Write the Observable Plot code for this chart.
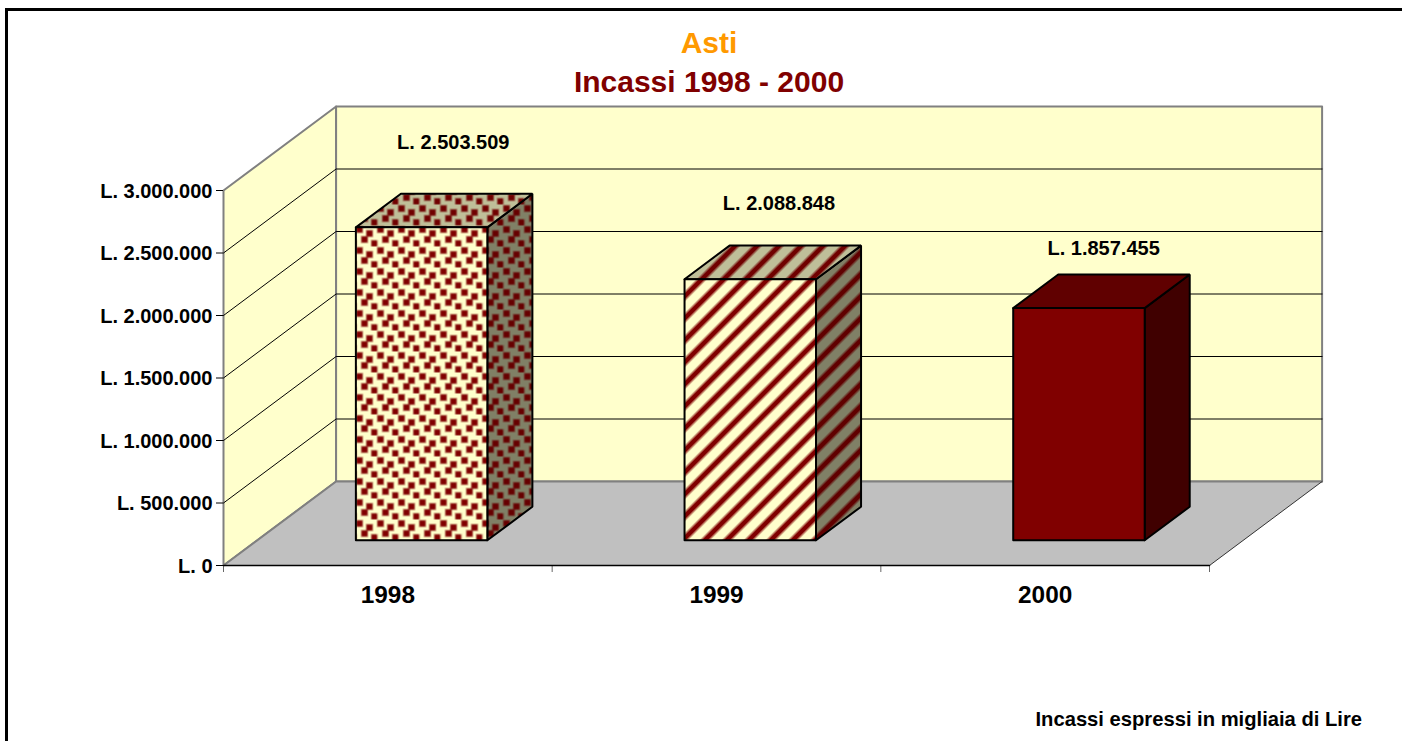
<!DOCTYPE html>
<html>
<head>
<meta charset="utf-8">
<script src="https://cdn.jsdelivr.net/npm/d3@7"></script>
<script src="https://cdn.jsdelivr.net/npm/@observablehq/plot@0.6"></script>
<style>
html,body{margin:0;padding:0;background:#fff;overflow:hidden;width:1402px;height:741px;font-family:"Liberation Sans",Arial,sans-serif;}
#chart{position:absolute;left:0;top:0;}
#border{position:absolute;left:5px;top:8px;width:1400px;height:740px;border-left:3px solid #000;border-top:3px solid #000;}
.t{position:absolute;left:0;width:1418px;text-align:center;font-weight:bold;font-size:30px;line-height:36px;white-space:nowrap;}
#t1{top:25px;color:#FF9900;}
#t2{top:64px;color:#800000;}
#cap{position:absolute;right:40px;top:708px;font-weight:bold;font-size:20.2px;line-height:22px;color:#000;white-space:nowrap;}
</style>
</head>
<body>
<div id="border"></div>
<div id="t1" class="t">Asti</div>
<div id="t2" class="t">Incassi 1998 - 2000</div>
<div id="chart"></div>
<div id="cap">Incassi espressi in migliaia di Lire</div>
<script>
// Data
const years = ["1998", "1999", "2000"];
const incassi = [2503509, 2088848, 1857455];
const yTicks = [0, 500000, 1000000, 1500000, 2000000, 2500000, 3000000];

// Oblique projection, in data units
const DEPTH_X = 0.3426;       // categories per full depth
const DEPTH_Y = 672000;       // value per full depth
const YMAX = 3000000;
const BAR_GAP = 0.3, BAR_W = 0.4, Z0 = 0.3, Z1 = 0.7;
const LABEL_LIFT = [408000, 336000, 208000];
const LABEL_SHIFT = [-0.0407, -0.0498, -0.062];

const fmt = d3.formatLocale({decimal: ",", thousands: ".", grouping: [3], currency: ["", ""]}).format(",d");
const lire = (v) => "L. " + fmt(v);

const P = (c, v, z) => ({x: c + z * DEPTH_X, y: v + z * DEPTH_Y});
const poly = (id, pts) => pts.map((p) => ({id, ...P(...p)}));
const closed = (id, pts) => poly(id, [...pts, pts[0]]);

const leftWall = closed("l", [[0,0,0],[0,YMAX,0],[0,YMAX,1],[0,0,1]]);
const backWall = closed("b", [[0,0,1],[0,YMAX,1],[3,YMAX,1],[3,0,1]]);
const floor = closed("f", [[0,0,0],[3,0,0],[3,0,1],[0,0,1]]);
const grid = yTicks.filter((v) => v > 0 && v < YMAX)
  .flatMap((v) => poly(v, [[0,v,0],[0,v,1],[3,v,1]]));
const floorRight = poly("r", [[3,0,0],[3,0,1]]);
const floorFront = poly("ff", [[0,0,0],[3,0,0]]);
const floorLeft = poly("fl", [[0,0,0],[0,0,1],[3,0,1]]);

const faces = incassi.map((v, i) => {
  const a = i + BAR_GAP, b = a + BAR_W;
  return {
    front: closed("front" + i, [[a,0,Z0],[b,0,Z0],[b,v,Z0],[a,v,Z0]]),
    side: closed("side" + i, [[b,0,Z0],[b,0,Z1],[b,v,Z1],[b,v,Z0]]),
    top: closed("top" + i, [[a,v,Z0],[b,v,Z0],[b,v,Z1],[a,v,Z1]])
  };
});
const labels = incassi.map((v, i) => ({
  text: lire(v),
  ...P(i + 0.5 + LABEL_SHIFT[i], v + LABEL_LIFT[i], Z1)
}));

// Fill patterns
function patterns() {
  const defs = d3.create("svg:defs");
  const dots = [[4,4],[14,8],[9,14],[19,18]];
  const dot = (id, bg, fg) => {
    const p = defs.append("pattern").attr("id", id).attr("patternUnits", "userSpaceOnUse")
      .attr("width", 21).attr("height", 21).attr("x", 355).attr("y", 225);
    p.append("rect").attr("width", 21).attr("height", 21).attr("fill", bg);
    for (const [x, y] of dots) {
      for (const dx of [-21, 0]) {
        p.append("rect").attr("x", x + dx + 21 * (x > 17 ? 1 : 1) - 3.6).attr("y", y - 3.6).attr("width", 7.2).attr("height", 7.2).attr("fill", fg).attr("opacity", 0.3);
        p.append("rect").attr("x", x + dx + 21 * (x > 17 ? 1 : 1) - 2.5).attr("y", y - 2.5).attr("width", 5).attr("height", 5).attr("fill", fg);
        p.append("rect").attr("x", x + dx - 3.6).attr("y", y - 3.6).attr("width", 7.2).attr("height", 7.2).attr("fill", fg).attr("opacity", 0.3);
        p.append("rect").attr("x", x + dx - 2.5).attr("y", y - 2.5).attr("width", 5).attr("height", 5).attr("fill", fg);
      }
    }
  };
  const T = 22 * Math.SQRT1_2;
  const stripe = (id, bg, fg) => {
    const p = defs.append("pattern").attr("id", id).attr("patternUnits", "userSpaceOnUse")
      .attr("width", T).attr("height", T).attr("patternTransform", "translate(691 278) rotate(45)");
    p.append("rect").attr("width", T).attr("height", T).attr("fill", bg);
    for (const [w, o] of [[7.6, 0.35], [4.8, 1]]) {
      p.append("rect").attr("x", (T - w) / 2).attr("y", 0).attr("width", w).attr("height", T).attr("fill", fg).attr("opacity", o);
    }
  };
  dot("dotFront", "#FFFFCC", "#800000");
  dot("dotSide", "#808066", "#660000");
  dot("dotTop", "#BFBF99", "#700000");
  stripe("stripeFront", "#FFFFCC", "#800000");
  stripe("stripeSide", "#808066", "#600000");
  stripe("stripeTop", "#BFBF99", "#700000");
  return defs.node();
}

const barFills = [
  {front: "url(#dotFront)", side: "url(#dotSide)", top: "url(#dotTop)"},
  {front: "url(#stripeFront)", side: "url(#stripeSide)", top: "url(#stripeTop)"},
  {front: "#800000", side: "#400000", top: "#600000"}
];

const face = (d, fill) => Plot.line(d, {x: "x", y: "y", z: "id", fill, stroke: "#000", strokeWidth: 2, strokeLinejoin: "miter"});

const chart = Plot.plot({
  width: 1402,
  height: 741,
  marginLeft: 223,
  marginRight: 193,
  marginTop: 190,
  marginBottom: 176,
  style: {background: "transparent", fontFamily: "'Liberation Sans', Arial, sans-serif", color: "#000", overflow: "visible"},
  x: {domain: [0, 3], label: null},
  y: {domain: [0, YMAX], label: null},
  marks: [
    patterns,
    Plot.line(leftWall, {x: "x", y: "y", z: "id", fill: "#FFFFCC", stroke: "#808080", strokeWidth: 2}),
    Plot.line(backWall, {x: "x", y: "y", z: "id", fill: "#FFFFCC", stroke: "#808080", strokeWidth: 2}),
    Plot.line(grid, {x: "x", y: "y", z: "id", stroke: "#000", strokeWidth: 1}),
    Plot.line(floor, {x: "x", y: "y", z: "id", fill: "#C0C0C0", stroke: "none"}),
    Plot.line(floorLeft, {x: "x", y: "y", z: "id", stroke: "#808080", strokeWidth: 2}),
    Plot.line(floorRight, {x: "x", y: "y", z: "id", stroke: "#333", strokeWidth: 1}),
    Plot.axisY({ticks: yTicks, tickFormat: () => "", tickSize: 7, label: null, stroke: "#000"}),
    Plot.axisY({ticks: yTicks, tickFormat: lire, tickSize: 0, tickPadding: 11, dy: 1, fontSize: 20, fontWeight: "bold", label: null}),
    Plot.axisX({ticks: [0, 1, 2, 3], tickFormat: () => "", tickSize: 7, stroke: "#666", label: null}),
    Plot.axisX({ticks: [0.5, 1.5, 2.5], tickFormat: (d) => years[Math.floor(d)], tickSize: 0, tickPadding: 20, fontSize: 24.4, fontWeight: "bold", label: null}),
    Plot.line(floorFront, {x: "x", y: "y", z: "id", stroke: "#000", strokeWidth: 1.5}),
    ...faces.flatMap((f, i) => [
      face(f.side, barFills[i].side),
      face(f.top, barFills[i].top),
      face(f.front, barFills[i].front)
    ]),
    Plot.text(labels, {x: "x", y: "y", text: "text", fontSize: 20, fontWeight: "bold", fill: "#000"})
  ]
});
document.getElementById("chart").appendChild(chart);
</script>
</body>
</html>
